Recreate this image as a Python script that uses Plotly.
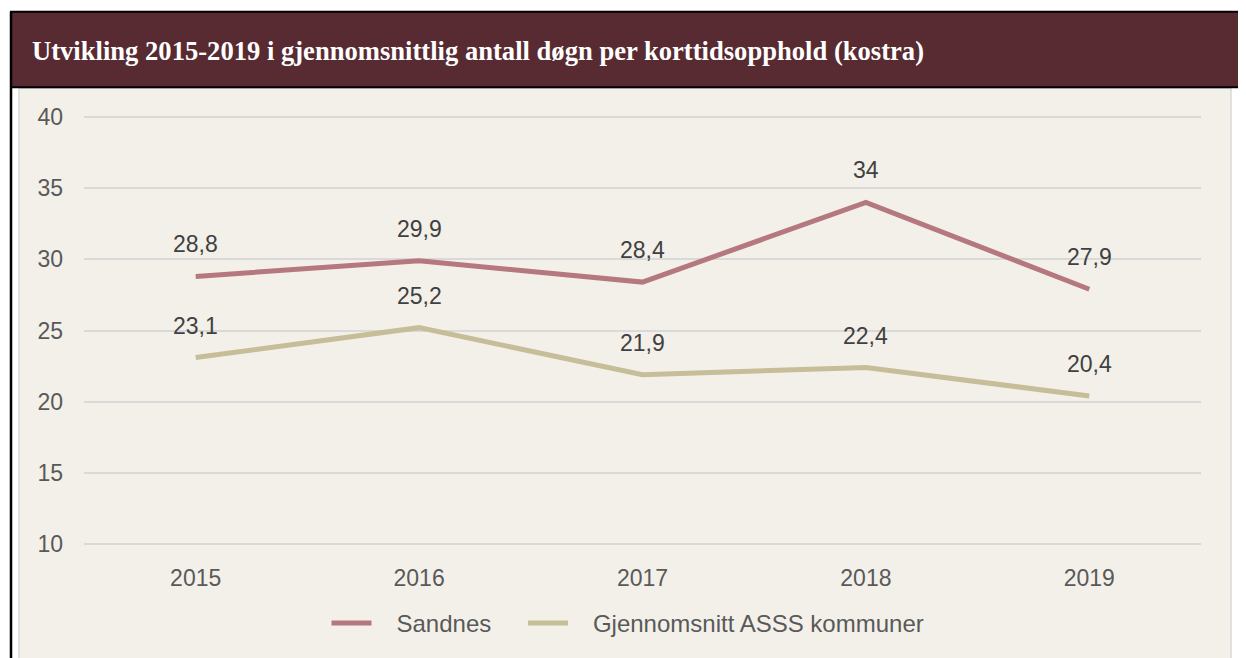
import plotly.graph_objects as go

years = ["2015", "2016", "2017", "2018", "2019"]
sandnes = [28.8, 29.9, 28.4, 34.0, 27.9]
asss = [23.1, 25.2, 21.9, 22.4, 20.4]
series_names = ["Sandnes", "Gjennomsnitt ASSS kommuner"]
title_text = "Utvikling 2015-2019 i gjennomsnittlig antall døgn per korttidsopphold (kostra)"

OFF = 8  # page body margin
W, H = 1246 - OFF, 658 - OFF
# plot area in figure pixels (2px of slack top/bottom so edge gridlines are drawn)
L, R, T, B = 84 - OFF, 1201 - OFF, 115 - OFF, 549 - OFF
PAD_UNITS = 2 * 30 / 430.0


def px(x):
    """reference-page pixel x -> paper coordinate"""
    return (x - OFF - L) / (R - L)


def py(y):
    return (B - (y - OFF)) / (B - T)


def fmt(v):
    return ("%g" % v).replace(".", ",")


NB = "\u00a0"
legend_labels = [NB * 3 + series_names[0] + NB * 4, NB * 3 + series_names[1]]

colors = ["#b5787e", "#c6bd99"]
fig = go.Figure()
for name, vals, col in zip(legend_labels, [sandnes, asss], colors):
    fig.add_trace(go.Scatter(x=years, y=vals, mode="lines", name=name,
                             line=dict(color=col, width=5), hoverinfo="skip"))

annotations = []
for vals in [sandnes, asss]:
    for i, v in enumerate(vals):
        annotations.append(dict(x=i, y=v, xref="x", yref="y", text=fmt(v),
                                showarrow=False, yshift=32,
                                font=dict(family="Arial, Liberation Sans", size=23, color="#404040")))

annotations.append(dict(x=px(30), y=py(51), xref="paper", yref="paper", xanchor="left",
                        yanchor="middle", showarrow=False, text="<b>" + title_text + "</b>",
                        font=dict(family="Times New Roman, Liberation Serif", size=26.6, color="white")))

shapes = [
    # chart panel
    dict(type="rect", xref="paper", yref="paper", x0=px(19), x1=px(1231), y0=py(700), y1=py(88),
         fillcolor="#f3f0e9", line=dict(color="#d9d9d9", width=1.5), layer="below"),
    # title bar
    dict(type="rect", xref="paper", yref="paper", x0=px(11), x1=px(1270), y0=py(87), y1=py(11),
         fillcolor="#582a31", line=dict(color="black", width=2), layer="below"),
    # left black border
    dict(type="line", xref="paper", yref="paper", x0=px(11), x1=px(11), y0=py(700), y1=py(11),
         line=dict(color="black", width=2.5), layer="below"),
]

fig.update_layout(
    width=W, height=H,
    margin=dict(l=L, r=W - R, t=T, b=H - B, pad=0),
    paper_bgcolor="white",
    plot_bgcolor="rgba(0,0,0,0)",
    font=dict(family="Arial, Liberation Sans", size=23, color="#595959"),
    showlegend=True,
    legend=dict(orientation="h", x=px(628), xanchor="center", y=py(627), yanchor="middle",
                font=dict(size=24, color="#595959"), bgcolor="rgba(0,0,0,0)",
                itemwidth=40, traceorder="normal"),
    annotations=annotations,
    shapes=shapes,
)
fig.update_xaxes(type="category", range=[-0.5, len(years) - 0.5], showgrid=False,
                 showline=False, zeroline=False, ticks="", ticklabelstandoff=16,
                 tickfont=dict(size=23, color="#595959"))
fig.update_yaxes(range=[10 - PAD_UNITS, 40 + PAD_UNITS], tickvals=[10, 15, 20, 25, 30, 35, 40],
                 showgrid=True, gridcolor="#d9d9d9", gridwidth=1.5, zeroline=False,
                 showline=False, ticks="", ticklabelstandoff=20,
                 tickfont=dict(size=23, color="#595959"))

fig.write_html("out.html")
